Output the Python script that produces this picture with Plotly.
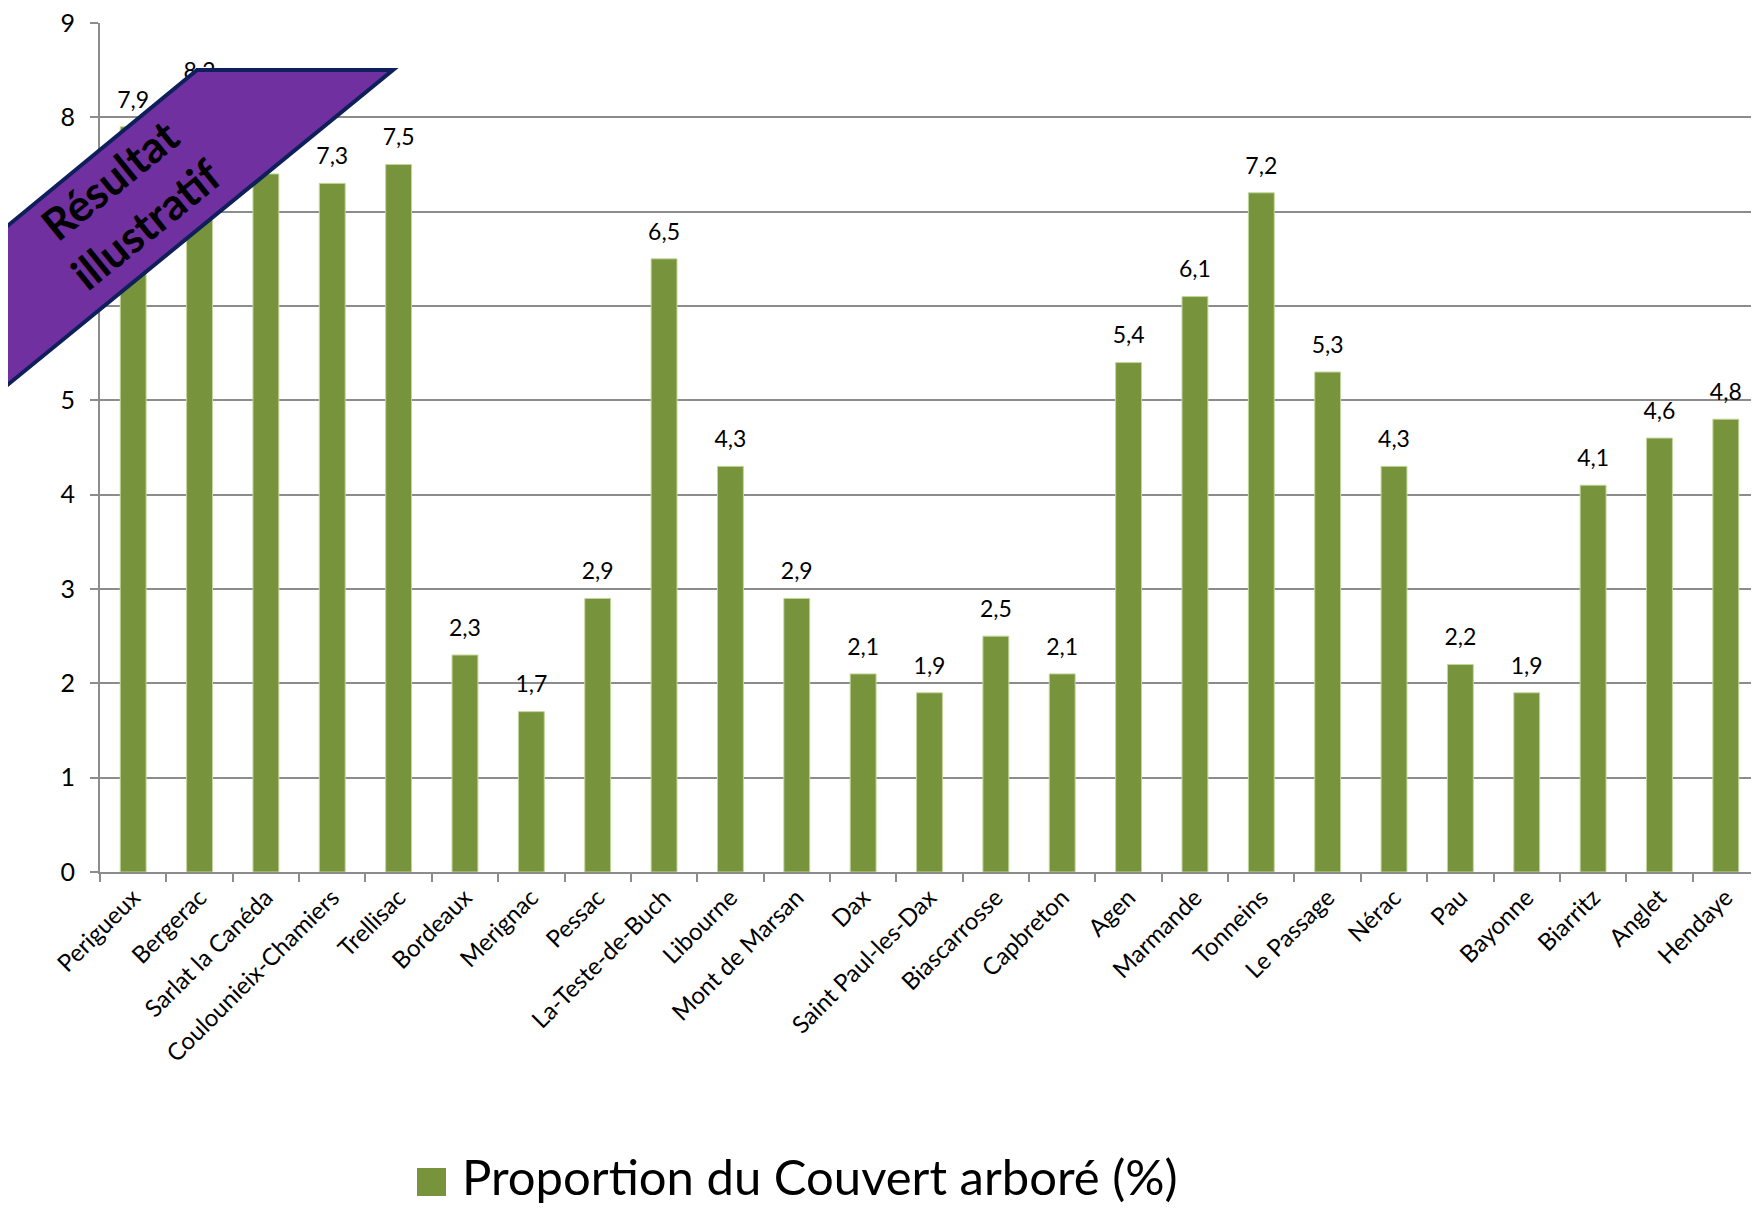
import plotly.graph_objects as go

# Données
villes = ["Perigueux", "Bergerac", "Sarlat la Canéda", "Coulounieix-Chamiers", "Trellisac",
          "Bordeaux", "Merignac", "Pessac", "La-Teste-de-Buch", "Libourne",
          "Mont de Marsan", "Dax", "Saint Paul-les-Dax", "Biascarrosse", "Capbreton",
          "Agen", "Marmande", "Tonneins", "Le Passage", "Nérac",
          "Pau", "Bayonne", "Biarritz", "Anglet", "Hendaye"]
couvert = [7.9, 8.2, 7.4, 7.3, 7.5,
           2.3, 1.7, 2.9, 6.5, 4.3,
           2.9, 2.1, 1.9, 2.5, 2.1,
           5.4, 6.1, 7.2, 5.3, 4.3,
           2.2, 1.9, 4.1, 4.6, 4.8]
y_ticks = [0, 1, 2, 3, 4, 5, 6, 7, 8, 9]
serie_nom = "Proportion du Couvert arboré (%)"
bandeau = "Résultat<br>illustratif"

# la page html a une marge de 8 px autour de la figure
PAD = 8
W, H = 1751, 1200
ML, MR, MT, MB = 92, 0, 15, 336
FONT = "Lato, 'Open Sans', sans-serif"
VERT = "#77933c"
GRIS = "#8c8c8c"


def px2paper(x, y):
    # pixels de la page -> coordonnées paper
    return (x - PAD - ML) / (W - ML - MR), (H - MB - (y - PAD)) / (H - MT - MB)


fig = go.Figure()
fig.add_trace(go.Bar(
    x=villes, y=couvert, name=serie_nom,
    marker=dict(color=VERT, line=dict(color="#c3d69b", width=1)),
    showlegend=False, hoverinfo="x+y",
))

# étiquettes de valeurs (virgule décimale), sous le bandeau
fig.add_trace(go.Scatter(
    x=villes, y=couvert, mode="markers+text",
    marker=dict(size=20, opacity=0),
    text=[f"{v:.1f}".replace(".", ",") for v in couvert],
    textposition="top center",
    textfont=dict(size=23, color="black", family=FONT),
    cliponaxis=False, showlegend=False, hoverinfo="skip",
))

# Bandeau "Résultat illustratif"
pts = [px2paper(5, 228), px2paper(197, 70), px2paper(393, 70), px2paper(5, 387)]
path = "M " + " L ".join(f"{x:.4f},{y:.4f}" for x, y in pts) + " Z"
fig.add_shape(type="path", xref="paper", yref="paper", path=path,
              fillcolor="#7030a0", line=dict(color="#0e1f5b", width=4), layer="above")
cx, cy = px2paper(127, 201)
fig.add_annotation(x=cx, y=cy, xref="paper", yref="paper", text=bandeau,
                   showarrow=False, textangle=-39, xanchor="center", yanchor="middle",
                   font=dict(size=44, color="black", family=FONT, weight="bold"))

# Légende manuelle
x0, y0 = px2paper(417, 1168)
x1, y1 = px2paper(446, 1196)
fig.add_shape(type="rect", xref="paper", yref="paper", x0=x0, y0=y0, x1=x1, y1=y1,
              fillcolor=VERT, line=dict(width=0))
tx, ty = px2paper(460, 1176)
fig.add_annotation(x=tx, y=ty, xref="paper", yref="paper", text=serie_nom,
                   showarrow=False, xanchor="left", yanchor="middle",
                   font=dict(size=49, color="black", family=FONT))

fig.update_layout(
    width=W, height=H,
    margin=dict(l=ML, r=MR, t=MT, b=MB, autoexpand=False),
    plot_bgcolor="white", paper_bgcolor="white",
    bargap=0.61,
    font=dict(family=FONT, color="black"),
)
fig.update_xaxes(
    range=[-0.5, len(villes) - 0.5],
    tickangle=-45, tickfont=dict(size=24, color="black"),
    showline=True, linecolor=GRIS, linewidth=2,
    ticks="outside", tickson="boundaries", ticklen=8, tickcolor=GRIS, tickwidth=2,
    showgrid=False, automargin=False,
)
fig.update_yaxes(
    range=[0, 9], tickvals=y_ticks, tickfont=dict(size=25, color="black"),
    showline=True, linecolor=GRIS, linewidth=2,
    ticks="outside", ticklen=8, tickcolor=GRIS, tickwidth=2,
    showgrid=True, gridcolor=GRIS, gridwidth=2, zeroline=False,
    ticklabelstandoff=10, ticklabeloverflow="allow", automargin=False,
)

fig.write_html("out.html")
